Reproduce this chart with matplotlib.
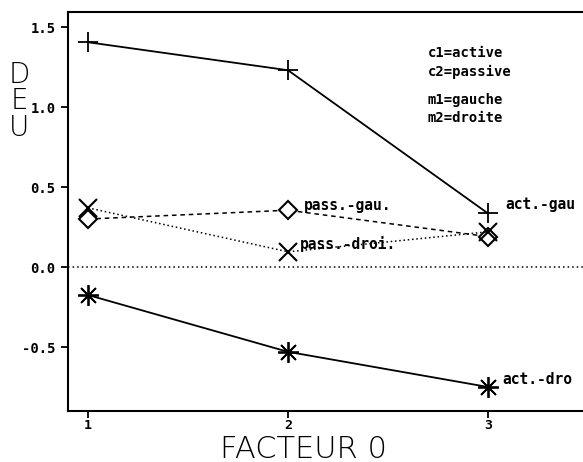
import matplotlib
matplotlib.use("Agg")
import matplotlib.pyplot as plt

# Factor levels and cell means
levels = [1, 2, 3]
act_gau = [1.405, 1.23, 0.335]
act_dro = [-0.175, -0.53, -0.75]
pass_gau = [0.30, 0.355, 0.19]
pass_dro = [0.37, 0.095, 0.22]

yticks = [-0.5, 0.0, 0.5, 1.0, 1.5]
ytick_labels = ["-0.5", "0.0", "0.5", "1.0", "1.5"]
legend_lines = ["c1=active", "c2=passive", "m1=gauche", "m2=droite"]
legend_rows = [53, 72, 100, 118]

fig = plt.figure(figsize=(5.83, 4.62), dpi=100)
ax = fig.add_axes([68 / 583, 51 / 462, 520 / 583, 399 / 462])
ax.set_xlim(0.9, 3.5)
ax.set_ylim(-0.9, 1.594)

mono = dict(family="DejaVu Sans Mono", fontweight="bold")

ax.plot(levels, act_gau, color="black", lw=1.3, marker="+", ms=14, mew=1.3)
ax.plot(levels, act_dro, color="black", lw=1.3, marker=(8, 2, 0), ms=15, mew=1.3)
ax.plot(levels, pass_gau, color="black", lw=1.1, ls=(0, (3, 2.5)),
        marker="D", ms=9, mfc="white", mew=1.5)
ax.plot(levels, pass_dro, color="black", lw=1.1, ls=(0, (1, 1.8)),
        marker="x", ms=13, mew=1.5)
ax.axhline(0.0, color="black", lw=1.1, ls=(0, (1, 2)))

lab = dict(fontsize=10.5, va="center", **mono)
ax.text(levels[1] + 0.08, pass_gau[1] + 0.03, "pass.-gau.", **lab)
ax.text(levels[1] + 0.06, pass_dro[1] + 0.05, "pass.-droi.", **lab)
ax.text(levels[2] + 0.085, act_gau[2] + 0.055, "act.-gau", **lab)
ax.text(levels[2] + 0.07, act_dro[2] + 0.045, "act.-dro", **lab)

for line, row in zip(legend_lines, legend_rows):
    fig.text(428 / 583, 1 - row / 462, line, fontsize=10, va="center", **mono)

ax.set_xticks(levels)
ax.set_xticklabels([str(v) for v in levels], fontsize=9.5, **mono)
ax.set_yticks(yticks)
ax.set_yticklabels(ytick_labels, fontsize=10, **mono)
ax.tick_params(direction="out", length=5, width=1.3)
ax.tick_params(axis="x", pad=1)
ax.tick_params(axis="y", pad=4)

for s in ["left", "bottom", "top"]:
    ax.spines[s].set_linewidth(1.5)
ax.spines["right"].set_visible(False)

fig.text(304 / 583, 1 - 449 / 462, "FACTEUR 0", fontsize=22, ha="center",
         va="center", family="DejaVu Sans", fontweight="light")
for ch, yc in zip("DEU", [75, 101, 128]):
    fig.text(19 / 583, 1 - yc / 462, ch, fontsize=20, ha="center",
             va="center", family="DejaVu Sans", fontweight="light")

fig.savefig("out.png", dpi=100)
